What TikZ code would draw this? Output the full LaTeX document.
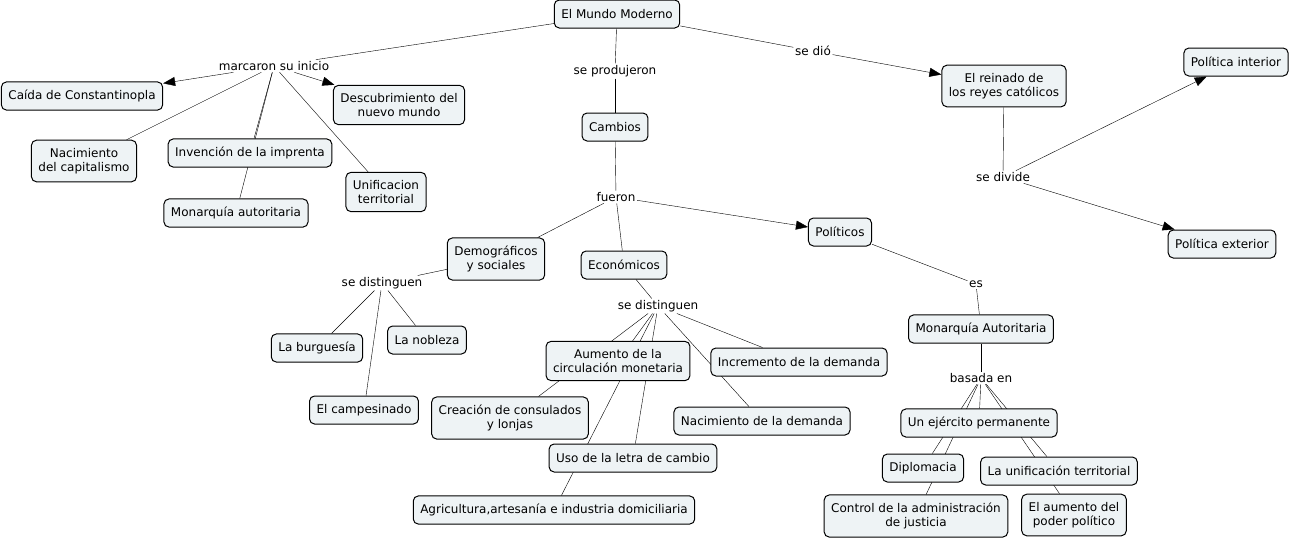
\documentclass[tikz,border=0pt]{standalone}
\usepackage{fontspec}
\setmainfont{DejaVu Sans}
\usetikzlibrary{arrows.meta,backgrounds}
\definecolor{fondo}{RGB}{238,243,245}
\begin{document}
\begin{tikzpicture}[x=1pt, y=-1pt, font=\fontsize{12}{14}\selectfont,
  concepto/.style={rectangle, rounded corners=5pt, draw=black, fill=fondo, line width=1pt, align=center, inner xsep=7pt, inner ysep=8pt, minimum height=28pt},
  enlace/.style={inner sep=1.5pt, align=center},
  flecha/.style={-{Triangle[length=12pt,width=9pt]}}]

   \useasboundingbox (0,0) rectangle (1291,541);

   % Concepto principal
   \node[concepto] (mundo) at (617,14) {El Mundo Moderno};

   % Rama izquierda: marcaron su inicio
   \node[enlace] (marcaron) at (274,66) {marcaron su inicio};
   \node[concepto] (caida) at (82,96) {Caída de Constantinopla};
   \node[concepto] (descubrimiento) at (399,105) {Descubrimiento del\\nuevo mundo};
   \node[concepto] (capitalismo) at (84,161) {Nacimiento\\del capitalismo};
   \node[concepto] (imprenta) at (250,153) {Invención de la imprenta};
   \node[concepto] (monarquia) at (236,213) {Monarquía autoritaria};
   \node[concepto] (unificacion) at (386,192) {Unificacion\\territorial};

   % Rama central: cambios
   \node[enlace] (produjeron) at (615,71) {se produjeron};
   \node[concepto] (cambios) at (615,127) {Cambios};
   \node[enlace] (fueron) at (616,197) {fueron};
   \node[concepto] (demograficos) at (496,259) {Demográficos\\y sociales};
   \node[concepto] (economicos) at (624,265) {Económicos};
   \node[concepto] (politicos) at (840,232) {Políticos};

   % Demográficos y sociales
   \node[enlace] (distinguen1) at (382,283) {se distinguen};
   \node[concepto] (burguesia) at (317,348) {La burguesía};
   \node[concepto] (nobleza) at (427,340) {La nobleza};
   \node[concepto] (campesinado) at (364,410) {El campesinado};

   % Económicos
   \node[enlace] (distinguen2) at (658,306) {se distinguen};
   \node[concepto] (circulacion) at (618,361) {Aumento de la\\circulación monetaria};
   \node[concepto] (incremento) at (799,362) {Incremento de la demanda};
   \node[concepto] (consulados) at (510,418) {Creación de consulados\\y lonjas};
   \node[concepto] (nacimiento) at (762,421) {Nacimiento de la demanda};
   \node[concepto] (letra) at (633,458) {Uso de la letra de cambio};
   \node[concepto] (agricultura) at (554,510) {Agricultura,artesanía e industria domiciliaria};

   % Políticos
   \node[enlace] (es) at (976,284) {es};
   \node[concepto] (autoritaria) at (981,329) {Monarquía Autoritaria};
   \node[enlace] (basada) at (981,378) {basada en};
   \node[concepto] (ejercito) at (979,423) {Un ejército permanente};
   \node[concepto] (diplomacia) at (923,468) {Diplomacia};
   \node[concepto] (territorial) at (1059,471) {La unificación territorial};
   \node[concepto] (justicia) at (916,516) {Control de la administración\\de justicia};
   \node[concepto] (poder) at (1074,515) {El aumento del\\poder político};

   % Rama derecha: reyes católicos
   \node[enlace] (dio) at (813,51) {se dió};
   \node[concepto] (reinado) at (1004,86) {El reinado de\\los reyes católicos};
   \node[enlace] (divide) at (1003,177) {se divide};
   \node[concepto] (interior) at (1236,62) {Política interior};
   \node[concepto] (exterior) at (1222,244) {Política exterior};

   % Conectores (debajo de las cajas)
   \begin{scope}[on background layer, line width=1.1pt]
     \draw (mundo) -- (marcaron);
     \draw[flecha] (marcaron) -- (caida);
     \draw[flecha] (marcaron) -- (descubrimiento);
     \draw (marcaron) -- (capitalismo);
     \draw (marcaron) -- (imprenta);
     \draw (marcaron) -- (monarquia);
     \draw (marcaron) -- (unificacion);

     \draw (mundo) -- (produjeron);
     \draw (produjeron) -- (cambios);
     \draw (cambios) -- (fueron);
     \draw (fueron) -- (demograficos);
     \draw (fueron) -- (economicos);
     \draw[flecha] (fueron) -- (politicos);

     \draw (demograficos) -- (distinguen1);
     \draw (distinguen1) -- (burguesia);
     \draw (distinguen1) -- (nobleza);
     \draw (distinguen1) -- (campesinado);

     \draw (economicos) -- (distinguen2);
     \draw (distinguen2) -- (circulacion);
     \draw (distinguen2) -- (incremento);
     \draw (distinguen2) -- (consulados);
     \draw (distinguen2) -- (nacimiento);
     \draw (distinguen2) -- (letra);
     \draw (distinguen2) -- (agricultura);

     \draw (politicos) -- (es);
     \draw (es) -- (autoritaria);
     \draw (autoritaria) -- (basada);
     \draw (basada) -- (ejercito);
     \draw (basada) -- (diplomacia);
     \draw (basada) -- (territorial);
     \draw (basada) -- (justicia);
     \draw (basada) -- (poder);

     \draw (mundo) -- (dio);
     \draw[flecha] (dio) -- (reinado);
     \draw (reinado) -- (divide);
     \draw[flecha] (divide) -- (interior);
     \draw[flecha] (divide) -- (exterior);
   \end{scope}

\end{tikzpicture}
\end{document}
